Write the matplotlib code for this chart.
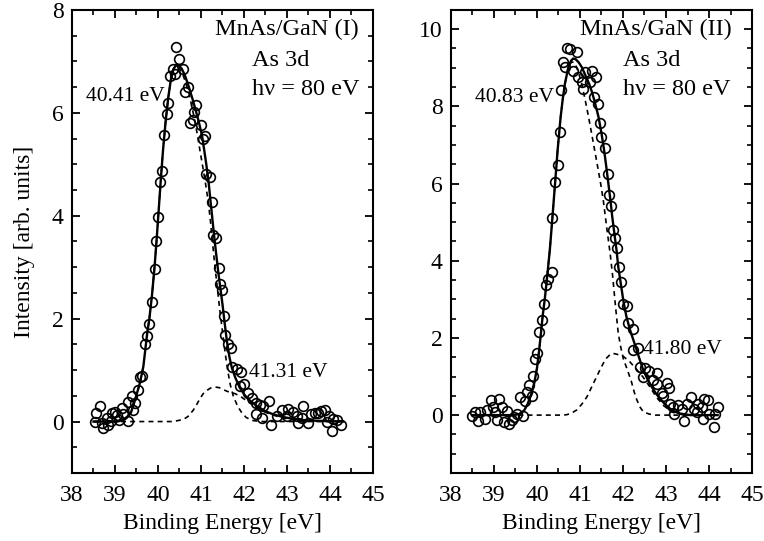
import matplotlib
matplotlib.use('Agg')
import matplotlib.pyplot as plt
from matplotlib.ticker import MultipleLocator

plt.rcParams.update({
    'font.family': ['Liberation Serif', 'DejaVu Serif'],
    'font.size': 17,
    'axes.linewidth': 1.5,
    'xtick.direction': 'in',
    'ytick.direction': 'in',
    'xtick.top': True,
    'ytick.right': True,
    'xtick.major.size': 5.5,
    'ytick.major.size': 5.5,
    'xtick.minor.size': 3.5,
    'ytick.minor.size': 3.5,
    'xtick.major.width': 1.3,
    'ytick.major.width': 1.3,
    'xtick.minor.width': 1.2,
    'ytick.minor.width': 1.2,
    'xtick.major.pad': 9,
    'ytick.major.pad': 6,
})

# ---- panel I : measured points ----
e_pts_1 = [38.53, 38.57, 38.65, 38.69, 38.73, 38.81, 38.84, 38.90, 38.92, 39.00,
           39.04, 39.10, 39.16, 39.19, 39.30, 39.31, 39.39, 39.41, 39.47, 39.53,
           39.58, 39.64, 39.70, 39.74, 39.78, 39.85, 39.92, 39.95, 39.99, 40.05,
           40.09, 40.15, 40.20, 40.24, 40.28, 40.36, 40.40, 40.43, 40.50, 40.59,
           40.64, 40.69, 40.74, 40.81, 40.84, 40.88, 41.00, 41.04, 41.10, 41.12,
           41.21, 41.25, 41.29, 41.35, 41.41, 41.44, 41.50, 41.53, 41.57, 41.63,
           41.69, 41.71, 41.83, 41.91, 41.93, 42.00, 42.10, 42.18, 42.27, 42.29,
           42.37, 42.43, 42.45, 42.59, 42.64, 42.76, 42.88, 42.99, 43.03, 43.13,
           43.24, 43.26, 43.34, 43.38, 43.50, 43.57, 43.65, 43.73, 43.79, 43.88,
           43.92, 43.98, 44.04, 44.08, 44.17, 44.26]
i_pts_1 = [-0.01, 0.16, 0.30, -0.03, -0.12, 0.07, -0.06, 0.01, 0.17, 0.19,
           0.12, 0.03, 0.27, 0.14, 0.01, 0.38, 0.49, 0.23, 0.36, 0.62,
           0.87, 0.88, 1.51, 1.66, 1.90, 2.32, 2.96, 3.50, 3.97, 4.65,
           4.86, 5.56, 5.98, 6.19, 6.72, 6.85, 6.76, 7.27, 7.05, 6.85,
           6.41, 6.51, 5.81, 5.86, 6.01, 6.16, 5.77, 5.49, 5.55, 4.82,
           4.76, 4.27, 3.63, 3.56, 2.98, 2.68, 2.56, 2.06, 1.68, 1.51,
           1.43, 1.06, 1.03, 0.69, 0.96, 0.72, 0.56, 0.46, 0.14, 0.36,
           0.33, 0.07, 0.30, 0.39, -0.06, 0.10, 0.23, 0.10, 0.25, 0.18,
           0.10, -0.03, 0.07, 0.31, -0.03, 0.14, 0.17, 0.17, 0.20, 0.22,
           -0.01, 0.10, -0.19, 0.04, 0.03, -0.07]

# ---- panel I : fit curves ----
e_fit_1 = [38.50, 39.05, 39.15, 39.25, 39.37, 39.47, 39.58, 39.66, 39.75, 39.80,
           39.86, 39.92, 39.97, 40.02, 40.07, 40.12, 40.18, 40.24, 40.30, 40.36,
           40.42, 40.48, 40.55, 40.62, 40.70, 40.81, 40.92, 41.02, 41.08, 41.13,
           41.18, 41.22, 41.26, 41.30, 41.35, 41.40, 41.45, 41.50, 41.55, 41.60,
           41.66, 41.72, 41.80, 41.90, 42.02, 42.15, 42.30, 42.50, 42.68, 42.90,
           43.15, 43.50, 44.30]
i_fit_1 = [0.00, 0.00, 0.02, 0.06, 0.17, 0.43, 0.75, 1.07, 1.72, 2.00,
           2.45, 3.00, 3.55, 4.15, 4.75, 5.30, 5.85, 6.30, 6.65, 6.85,
           6.93, 6.92, 6.86, 6.74, 6.55, 6.25, 5.92, 5.58, 5.25, 4.96,
           4.63, 4.30, 3.98, 3.65, 3.28, 2.92, 2.60, 2.28, 1.92, 1.58,
           1.26, 1.04, 0.85, 0.66, 0.51, 0.40, 0.30, 0.20, 0.14, 0.09,
           0.05, 0.02, 0.00]

e_main_1 = [38.50, 39.05, 39.15, 39.25, 39.37, 39.47, 39.58, 39.66, 39.75, 39.80,
            39.86, 39.92, 39.97, 40.02, 40.07, 40.12, 40.18, 40.24, 40.30, 40.36,
            40.42, 40.50, 40.57, 40.64, 40.72, 40.78, 40.85, 40.91, 40.98, 41.05,
            41.11, 41.17, 41.22, 41.27, 41.32, 41.38, 41.44, 41.50, 41.56, 41.62,
            41.68, 41.75, 41.85, 41.95, 42.05, 42.20, 42.40, 44.30]
i_main_1 = [0.00, 0.00, 0.02, 0.06, 0.17, 0.43, 0.75, 1.07, 1.72, 2.00,
            2.45, 3.00, 3.55, 4.15, 4.75, 5.30, 5.85, 6.30, 6.65, 6.85,
            6.91, 6.86, 6.76, 6.60, 6.38, 6.15, 5.88, 5.60, 5.25, 4.91,
            4.60, 4.27, 3.90, 3.47, 3.05, 2.60, 2.15, 1.75, 1.35, 1.00,
            0.72, 0.50, 0.30, 0.17, 0.08, 0.02, 0.00, 0.00]

e_small_1 = [38.50, 40.35, 40.59, 40.70, 40.82, 40.90, 40.98, 41.05, 41.13, 41.22,
             41.33, 41.42, 41.52, 41.60, 41.67, 41.80, 41.95, 42.10, 42.30, 42.50,
             42.70, 42.90, 43.15, 43.40, 44.30]
i_small_1 = [0.00, 0.00, 0.04, 0.10, 0.22, 0.33, 0.45, 0.54, 0.60, 0.65,
             0.67, 0.66, 0.62, 0.59, 0.57, 0.54, 0.47, 0.38, 0.27, 0.18,
             0.12, 0.07, 0.03, 0.01, 0.00]

# ---- panel II : measured points ----
e_pts_2 = [38.49, 38.56, 38.62, 38.67, 38.79, 38.83, 38.92, 38.97, 39.02, 39.08,
           39.12, 39.18, 39.23, 39.30, 39.36, 39.41, 39.47, 39.54, 39.60, 39.67,
           39.72, 39.77, 39.82, 39.88, 39.91, 39.95, 40.01, 40.05, 40.11, 40.17,
           40.21, 40.26, 40.34, 40.36, 40.42, 40.48, 40.53, 40.56, 40.60, 40.65,
           40.69, 40.77, 40.83, 40.92, 40.96, 41.04, 41.06, 41.12, 41.23, 41.27,
           41.33, 41.37, 41.43, 41.47, 41.50, 41.58, 41.64, 41.67, 41.72, 41.77,
           41.81, 41.87, 41.91, 41.95, 42.01, 42.09, 42.12, 42.23, 42.24, 42.34,
           42.40, 42.47, 42.51, 42.61, 42.70, 42.78, 42.80, 42.90, 42.94, 43.02,
           43.07, 43.09, 43.17, 43.18, 43.27, 43.37, 43.42, 43.48, 43.58, 43.64,
           43.71, 43.75, 43.83, 43.87, 43.88, 43.97, 44.00, 44.12, 44.14, 44.22]
i_pts_2 = [-0.02, 0.09, -0.16, 0.07, -0.09, 0.13, 0.39, 0.22, 0.07, -0.13,
           0.43, 0.22, -0.17, 0.11, -0.24, -0.13, -0.04, 0.04, 0.47, -0.02,
           0.37, 0.60, 0.79, 0.50, 1.01, 1.45, 1.62, 2.16, 2.46, 2.88,
           3.37, 3.52, 3.71, 5.10, 6.04, 6.48, 7.34, 8.42, 9.14, 9.02,
           9.52, 9.48, 8.92, 9.40, 8.75, 8.63, 8.46, 8.88, 8.63, 8.92,
           8.25, 8.76, 8.07, 7.56, 7.21, 6.93, 6.26, 5.70, 5.41, 4.79,
           4.58, 4.34, 3.84, 3.44, 2.88, 2.82, 2.39, 2.22, 1.68, 1.75,
           1.24, 0.99, 1.21, 1.15, 0.92, 0.80, 1.08, 0.56, 0.49, 0.82,
           0.69, 0.28, 0.22, 0.03, 0.26, 0.17, -0.15, 0.28, 0.47, 0.17,
           0.09, 0.28, 0.22, -0.09, 0.41, 0.39, 0.04, -0.30, 0.04, 0.22]

# ---- panel II : fit curves ----
e_fit_2 = [38.50, 39.45, 39.60, 39.70, 39.78, 39.86, 39.94, 40.00, 40.05, 40.09,
           40.13, 40.18, 40.22, 40.26, 40.30, 40.36, 40.42, 40.48, 40.55, 40.60,
           40.65, 40.73, 40.79, 40.84, 40.90, 40.97, 41.04, 41.12, 41.21, 41.27,
           41.33, 41.43, 41.50, 41.56, 41.61, 41.66, 41.71, 41.75, 41.80, 41.85,
           41.89, 41.95, 42.01, 42.08, 42.16, 42.24, 42.32, 42.40, 42.47, 42.57,
           42.67, 42.76, 42.86, 42.97, 43.09, 43.20, 43.33, 43.56, 44.20]
i_fit_2 = [0.00, 0.00, 0.03, 0.12, 0.28, 0.52, 0.85, 1.22, 1.68, 2.10,
           2.55, 3.00, 3.41, 3.85, 4.30, 5.14, 6.00, 6.87, 7.73, 8.20,
           8.59, 9.02, 9.18, 9.24, 9.22, 9.14, 9.02, 8.82, 8.59, 8.40,
           8.17, 7.73, 7.30, 6.87, 6.45, 6.00, 5.55, 5.14, 4.70, 4.27,
           3.84, 3.40, 2.95, 2.55, 2.22, 1.95, 1.68, 1.40, 1.17, 0.93,
           0.73, 0.57, 0.43, 0.29, 0.17, 0.09, 0.04, 0.00, 0.00]

e_main_2 = [38.50, 39.45, 39.60, 39.70, 39.78, 39.86, 39.94, 40.00, 40.05, 40.09,
            40.13, 40.18, 40.22, 40.26, 40.30, 40.36, 40.42, 40.48, 40.55, 40.60,
            40.65, 40.73, 40.80, 40.86, 40.92, 40.98, 41.04, 41.12, 41.20, 41.27,
            41.34, 41.41, 41.48, 41.54, 41.59, 41.64, 41.70, 41.76, 41.81, 41.85,
            41.89, 41.95, 42.01, 42.10, 42.20, 42.26, 42.32, 42.40, 42.47, 42.60,
            42.75, 44.20]
i_main_2 = [0.00, 0.00, 0.03, 0.12, 0.28, 0.52, 0.85, 1.22, 1.68, 2.10,
            2.55, 3.00, 3.41, 3.85, 4.30, 5.14, 6.00, 6.87, 7.73, 8.20,
            8.59, 9.02, 9.15, 9.14, 9.02, 8.82, 8.59, 8.17, 7.72, 7.30,
            6.87, 6.44, 6.00, 5.58, 5.14, 4.70, 4.20, 3.60, 3.00, 2.55,
            2.12, 1.75, 1.45, 1.18, 0.85, 0.60, 0.40, 0.20, 0.09, 0.03,
            0.00, 0.00]

e_small_2 = [38.50, 40.60, 40.69, 40.80, 40.92, 41.04, 41.16, 41.25, 41.35, 41.45,
             41.54, 41.62, 41.70, 41.77, 41.88, 42.01, 42.16, 42.32, 42.47, 42.62,
             42.78, 42.95, 43.15, 43.35, 43.60, 44.20]
i_small_2 = [0.00, 0.00, 0.01, 0.05, 0.13, 0.28, 0.47, 0.68, 0.91, 1.14,
             1.34, 1.48, 1.57, 1.60, 1.57, 1.52, 1.38, 1.18, 0.98, 0.74,
             0.46, 0.24, 0.08, 0.02, 0.00, 0.00]

panels = [
    dict(pts=(e_pts_1, i_pts_1), fit=(e_fit_1, i_fit_1), main=(e_main_1, i_main_1),
         small=(e_small_1, i_small_1), ylim=(-1, 8), sample='MnAs/GaN (I)',
         head_x=(0.475, 0.598), peak1=('40.41 eV', 38.33, 6.31),
         peak2=('41.31 eV', 42.12, 0.96)),
    dict(pts=(e_pts_2, i_pts_2), fit=(e_fit_2, i_fit_2), main=(e_main_2, i_main_2),
         small=(e_small_2, i_small_2), ylim=(-1.5, 10.5), sample='MnAs/GaN (II)',
         head_x=(0.429, 0.571), peak1=('40.83 eV', 38.56, 8.24),
         peak2=('41.80 eV', 42.47, 1.71)),
]

fig = plt.figure(figsize=(7.64, 5.41), dpi=100)
ax_left = fig.add_axes([0.0942, 0.1257, 0.394, 0.856])
ax_right = fig.add_axes([0.5903, 0.1257, 0.394, 0.856])

for ax, p in zip((ax_left, ax_right), panels):
    ax.plot(*p['main'], color='black', linestyle=(0, (3, 2.5)), linewidth=1.2)
    ax.plot(*p['small'], color='black', linestyle=(0, (3, 2.5)), linewidth=1.2)
    ax.plot(*p['fit'], color='black', linewidth=1.7)
    ax.plot(*p['pts'], linestyle='none', marker='o', markersize=7,
            markerfacecolor='none', markeredgecolor='black', markeredgewidth=1.2)

    ax.set_xlim(38, 45)
    ax.set_ylim(*p['ylim'])
    ax.xaxis.set_major_locator(MultipleLocator(1))
    ax.xaxis.set_minor_locator(MultipleLocator(0.5))
    ax.yaxis.set_major_locator(MultipleLocator(2))
    ax.yaxis.set_minor_locator(MultipleLocator(0.5))
    ax.tick_params(which='both', top=True, right=True)
    ax.set_xlabel('Binding Energy [eV]', labelpad=5)

    hx1, hx2 = p['head_x']
    ax.text(hx1, 0.957, p['sample'], transform=ax.transAxes, ha='left', va='center', fontsize=17.5)
    ax.text(hx2, 0.890, 'As 3d', transform=ax.transAxes, ha='left', va='center', fontsize=17.5)
    ax.text(hx2, 0.828, 'h\u03bd = 80 eV', transform=ax.transAxes, ha='left', va='center', fontsize=17.5)

    label, lx, ly = p['peak1']
    ax.text(lx, ly, label, ha='left', va='center', fontsize=15.5)
    label, lx, ly = p['peak2']
    ax.text(lx, ly, label, ha='left', va='center', fontsize=15.5)

ax_left.set_ylabel('Intensity [arb. units]', labelpad=12)

fig.savefig('out.png', dpi=100)
